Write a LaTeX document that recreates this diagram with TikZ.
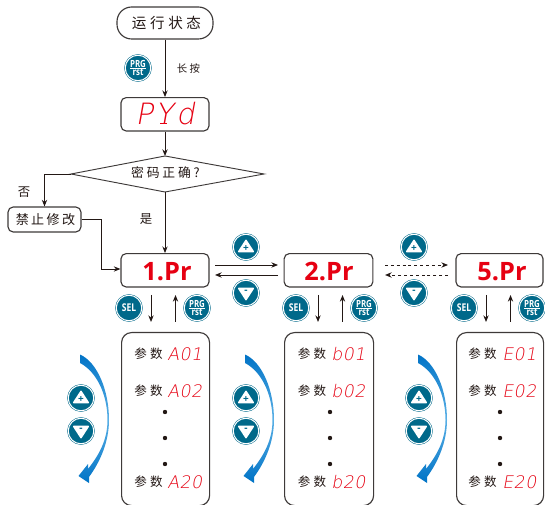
\documentclass[tikz,border=0pt]{standalone}
\usepackage{fontspec}
\setmainfont{Noto Sans CJK SC}
\newfontfamily\cjk[LetterSpace=22]{Noto Sans CJK SC}
\newfontfamily\cjkw[LetterSpace=25]{Noto Sans CJK SC}
\newfontfamily\cjkn[LetterSpace=18]{Noto Sans CJK SC}
\newfontfamily\ledbig[FakeSlant=0.18,LetterSpace=10]{DejaVu Sans ExtraLight}
\newfontfamily\led[FakeSlant=0.18,LetterSpace=3]{DejaVu Sans ExtraLight}
\newfontfamily\boldf{Open Sans}
\newfontfamily\btnf[FakeStretch=0.8]{Open Sans}
\usetikzlibrary{arrows.meta}
\definecolor{ink}{HTML}{231815}
\definecolor{boxc}{HTML}{3E3A39}
\definecolor{tealb}{HTML}{00698A}
\definecolor{redt}{HTML}{E60012}
\definecolor{blueA}{HTML}{0073C6}
\definecolor{blueB}{HTML}{5AB0E6}
\tikzset{
  arr/.style={draw=ink,line width=.7pt,-{Stealth[length=5pt,width=4pt]}},
  ln/.style={draw=ink,line width=.7pt},
  dash arr/.style={arr,dash pattern=on 2.2pt off 2.2pt},
  box/.style={draw=boxc,line width=.85pt,rounded corners=3.8pt,fill=white,inner sep=0},
  btn/.style={circle,fill=tealb,draw=tealb,line width=.35pt,double=white,double distance=.8pt,minimum size=19.2pt,inner sep=0,text=white},
  cnsm/.style={inner sep=0,text=ink,font=\cjk\fontsize{7.8}{8}\selectfont},
  cnpar/.style={inner sep=0,text=ink,font=\cjkw\fontsize{9.4}{10}\selectfont},
  ledt/.style={inner sep=0,text=redt,font=\led\fontsize{13}{13}\selectfont},
  prt/.style={inner sep=0,text=redt,font=\boldf\bfseries\fontsize{19}{20}\selectfont},
  dotn/.style={circle,fill=ink,minimum size=3.3pt,inner sep=0},
}
\newcommand{\btnprg}[3]{\node[btn] (#1) at (#2,#3) {};
  \node[inner sep=0,text=white,font=\btnf\bfseries\fontsize{7.4}{7.4}\selectfont] (#1t) at (#2,#3-4) {PRG};
  \node[inner sep=0,text=white,font=\btnf\bfseries\fontsize{7.4}{7.4}\selectfont] (#1b) at (#2,#3+4.4) {rst};
  \draw[white,line width=.5pt] (#2-8,#3+.1) -- (#2+8,#3+.1);}
\newcommand{\btnsel}[3]{\node[btn,font=\btnf\bfseries\fontsize{8}{8}\selectfont] (#1) at (#2,#3) {SEL};}
\newcommand{\btnup}[3]{\node[btn] (#1) at (#2,#3) {};
  \fill[white,draw=white,line width=1pt,line join=round] (#2,#3-6.8) -- (#2+7.4,#3+4.6) -- (#2-7.4,#3+4.6) -- cycle;
  \node[inner sep=0,text=tealb,font=\boldf\bfseries\fontsize{7.5}{7.5}\selectfont] (#1s) at (#2,#3+1.2) {+};}
\newcommand{\btndn}[3]{\node[btn] (#1) at (#2,#3) {};
  \fill[white,draw=white,line width=1pt,line join=round] (#2,#3+6.8) -- (#2+7.4,#3-4.6) -- (#2-7.4,#3-4.6) -- cycle;
  \node[inner sep=0,text=tealb,font=\boldf\bfseries\fontsize{7.5}{7.5}\selectfont] (#1s) at (#2,#3-1.4) {-};}
\newcommand{\swoosh}[1]{\begin{scope}[shift={(#1,0)}]
  \shade[top color=blueA,bottom color=blueA,middle color=blueB,draw=none]
   (80,354.5) .. controls (97,362) and (109,390) .. (109,420)
   .. controls (109,442) and (100,462) .. (89,477) -- (89,483) -- (78.5,476) -- (88,464) -- (88,469)
   .. controls (99,455) and (107.5,440) .. (107.5,420)
   .. controls (107.5,395) and (97,372) .. (80,363) -- cycle;
  \end{scope}}
\newcommand{\column}[9]{%
 \node[box,minimum width=#3pt*.75-#2pt*.75,minimum height=129.75pt,rounded corners=7.5pt,anchor=north west] (par#1) at (#2,332) {};
 \node[cnpar] (p#1a) at (#5,354) {参数};
 \node[cnpar] (p#1b) at (#5,391) {参数};
 \node[cnpar] (p#1c) at (#5,482) {参数};
 \node[ledt,anchor=west] (l#1a) at (#6,354) {#801};
 \node[ledt,anchor=west] (l#1b) at (#6,391) {#802};
 \node[ledt,anchor=west] (l#1c) at (#6,482) {#820};
 \node[dotn] (d#1a) at (#7,412) {};
 \node[dotn] (d#1b) at (#7,438) {};
 \node[dotn] (d#1c) at (#7,464) {};
 \coordinate (dt#1) at (#9,295); \coordinate (db#1) at (#9,322);
 \coordinate (ut#1) at (#9+24.5,295); \coordinate (ub#1) at (#9+24.5,322);
 \draw[arr] (dt#1) -- (db#1);
 \draw[arr] (ub#1) -- (ut#1);
}
\begin{document}
\begin{tikzpicture}[x=.75pt,y=-.75pt]
\useasboundingbox (0,0) rectangle (545,505);
\node[box,rounded corners=11pt,minimum width=72pt,minimum height=24pt] (start) at (165,23) {};
\node[inner sep=0,text=ink,font=\cjkw\fontsize{10.9}{11}\selectfont] (startt) at (166.5,23) {运行状态};
\node[box,minimum width=66pt,minimum height=25pt] (pwd) at (165,114.3) {};
\node[inner sep=0,text=redt,font=\ledbig\fontsize{22}{24}\selectfont] (pwdt) at (165,114) {PYd};
\draw[redt,line width=1pt] (160,123.5) -- (167,123.5);
\draw[arr] (start) -- (pwd);
\coordinate (dT) at (165,156); \coordinate (dB) at (165,192);
\coordinate (dL) at (71,174); \coordinate (dR) at (264,174);
\draw[arr] (pwd) -- (dT);
\draw[draw=boxc,line width=.7pt,line join=miter,fill=white] (dT) -- (dR) -- (dB) -- (dL) -- cycle;
\node[inner sep=0,text=ink,font=\cjk\fontsize{9.6}{10}\selectfont] (q) at (165.5,173) {密码正确?};
\node[cnsm] (chang) at (188.5,69) {长按};
\node[cnsm,font=\fontsize{9.3}{10}\selectfont] (no) at (24,192) {否};
\node[cnsm,font=\fontsize{9.3}{10}\selectfont] (yes) at (146,219) {是};
\btnprg{b0}{138}{68}
\node[box,minimum width=54.7pt,minimum height=18.7pt] (forbid) at (44.5,219.5) {};
\node[inner sep=0,text=ink,font=\cjkn\fontsize{9.8}{10}\selectfont] (forbidt) at (45.5,219.5) {禁止修改};
\draw[arr] (dL) -| (forbid.north);
\node[box,minimum width=66pt,minimum height=25pt] (pr1) at (165,270.3) {};
\node[box,minimum width=66.5pt,minimum height=25pt] (pr2) at (328.5,270.3) {};
\node[box,minimum width=65.3pt,minimum height=25pt] (pr5) at (499.5,270.3) {};
\node[prt] (pr1t) at (167,271.5) {1.Pr};
\node[prt] (pr2t) at (329,271.5) {2.Pr};
\node[prt] (pr5t) at (502,271.5) {5.Pr};
\draw[arr] (dB) -- (pr1);
\coordinate (bend) at (101,269);
\draw[ln] (forbid.east) -| (bend);
\draw[arr] (bend) -- (bend -| pr1.west);
\coordinate (a1) at (215,265); \coordinate (a2) at (278,265);
\coordinate (a3) at (278,275); \coordinate (a4) at (215,275);
\draw[arr] (a1) -- (a2); \draw[arr] (a3) -- (a4);
\coordinate (c1) at (385,265); \coordinate (c2) at (448,265);
\coordinate (c3) at (448,275); \coordinate (c4) at (385,275);
\draw[dash arr] (c1) -- (c2); \draw[dash arr] (c3) -- (c4);
\btnup{u1}{246}{247} \btndn{n1}{246}{293}
\btnup{u2}{414}{247} \btndn{n2}{414}{293}
\column{1}{121}{209}{165}{148.5}{167}{165}{A}{151}
\column{2}{284}{373}{328}{312}{331}{330}{b}{318}
\column{5}{456}{543}{500}{482.5}{502}{500}{E}{486}
\btnsel{s1}{129}{308} \btnprg{r1}{197}{308}
\btnsel{s2}{296}{308} \btnprg{r2}{364}{308}
\btnsel{s5}{464}{308} \btnprg{r5}{532}{308}
\swoosh{0} \swoosh{165} \swoosh{338}
\btnup{v1}{81}{398} \btndn{w1}{81}{431}
\btnup{v2}{246}{398} \btndn{w2}{246}{431}
\btnup{v5}{419}{398} \btndn{w5}{419}{431}
\end{tikzpicture}
\end{document}
